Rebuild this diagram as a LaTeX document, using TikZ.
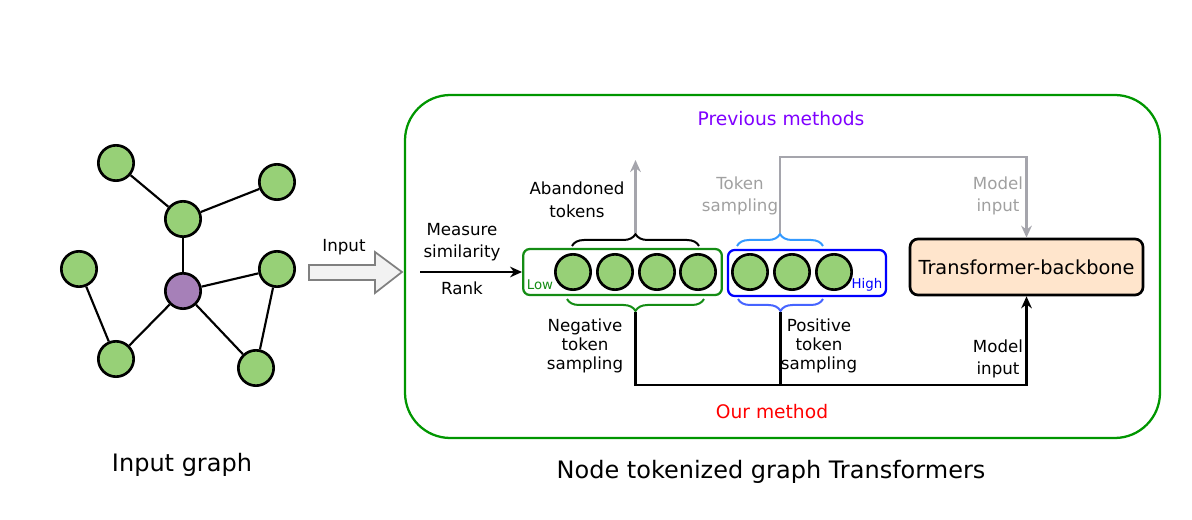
\documentclass[tikz,border=0pt]{standalone}
\usepackage{fontspec}
\setmainfont{DejaVu Sans}
\usetikzlibrary{arrows.meta,decorations.pathreplacing,calc}
\definecolor{nodegreen}{RGB}{151,208,119}
\definecolor{nodepurple}{RGB}{166,128,184}
\definecolor{boxgreen}{RGB}{0,150,0}
\definecolor{lowgreen}{RGB}{20,140,20}
\definecolor{highblue}{RGB}{0,0,255}
\definecolor{lightblue}{RGB}{51,153,255}
\definecolor{braceblue}{RGB}{70,100,255}
\definecolor{grayline}{RGB}{165,165,172}
\definecolor{graytext}{RGB}{160,160,160}
\definecolor{prevpurple}{RGB}{127,0,255}
\definecolor{peach}{RGB}{255,229,204}
\definecolor{arrowfill}{RGB}{242,242,242}
\definecolor{arrowdraw}{RGB}{128,128,128}
\begin{document}
\begin{tikzpicture}[x=0.75pt,y=-0.75pt,
  gnode/.style={circle,draw=black,fill=nodegreen,line width=2pt,minimum size=26.5pt,inner sep=0pt},
  pnode/.style={gnode,fill=nodepurple},
  tok/.style={gnode},
  edge/.style={line width=1.6pt},
  lbl/.style={font=\fontsize{12.5}{17}\selectfont,align=center,inner sep=0pt},
  lbltight/.style={font=\fontsize{12.5}{14.3}\selectfont,align=center,inner sep=0pt},
  graylbl/.style={lbl,text=graytext},
  bigtitle/.style={font=\fontsize{18}{22}\selectfont,inner sep=0pt},
  midtitle/.style={font=\fontsize{14}{17}\selectfont,inner sep=0pt},
  bracedec/.style={decorate,decoration={brace,amplitude=9pt},line width=1.5pt},
  grayarrow/.style={draw=grayline,line width=1.6pt,-{Stealth[length=9pt,width=8pt]}},
  blackarrow/.style={draw=black,line width=1.6pt,-{Stealth[length=9pt,width=8pt]}},
  plainline/.style={draw=black,line width=1.6pt}
]
\useasboundingbox (0,0) rectangle (1192,520);

% ---------- input graph ----------
\node[gnode] (tl) at (116,163) {};
\node[gnode] (tr) at (277,182) {};
\node[gnode] (mu) at (183,219) {};
\node[gnode] (le) at (79,269) {};
\node[pnode] (ce) at (183,291) {};
\node[gnode] (ri) at (277,269) {};
\node[gnode] (bl) at (116,359) {};
\node[gnode] (br) at (256,368) {};
\draw[edge] (tl) -- (mu);
\draw[edge] (tr) -- (mu);
\draw[edge] (mu) -- (ce);
\draw[edge] (ce) -- (ri);
\draw[edge] (ce) -- (bl);
\draw[edge] (ce) -- (br);
\draw[edge] (le) -- (bl);
\draw[edge] (ri) -- (br);
\node[bigtitle] (igtitle) at (182,465) {Input graph};

% ---------- block arrow ----------
\draw[draw=arrowdraw,fill=arrowfill,line width=1.3pt]
  (309,265) -- (375,265) -- (375,252) -- (402,272) -- (375,293) -- (375,280) -- (309,280) -- cycle;
\node[lbl] (inputlbl) at (344,247) {Input};

% ---------- big container ----------
\draw[draw=boxgreen,line width=1.7pt,rounded corners=34pt] (405,95) rectangle (1160,438);
\node[midtitle,text=prevpurple] (prev) at (781,119) {Previous methods};
\node[midtitle,text=red] (ours) at (772,412) {Our method};
\node[bigtitle] (ntitle) at (771,472) {Node tokenized graph Transformers};

% ---------- token boxes ----------
\node[draw=lowgreen,line width=1.7pt,rounded corners=5pt,minimum width=149pt,minimum height=34.5pt,inner sep=0pt] (lowbox) at (622.5,272) {};
\node[draw=highblue,line width=1.7pt,rounded corners=5pt,minimum width=118.5pt,minimum height=34.5pt,inner sep=0pt] (highbox) at (807,273) {};
\node[tok] (t1) at (573,272) {};
\node[tok] (t2) at (615,272) {};
\node[tok] (t3) at (657,272) {};
\node[tok] (t4) at (698,272) {};
\node[tok] (t5) at (750,272) {};
\node[tok] (t6) at (792,272) {};
\node[tok] (t7) at (834,272) {};
\node[font=\fontsize{10}{11}\selectfont,text=lowgreen,inner sep=0pt] (lowlbl) at (540,285) {Low};
\node[font=\fontsize{10}{11}\selectfont,text=highblue,inner sep=0pt] (highlbl) at (867,285) {High};

% braces
\coordinate (ab1) at (572,246);
\coordinate (ab2) at (699,246);
\coordinate (pb1) at (737,246);
\coordinate (pb2) at (823,246);
\coordinate (nb1) at (567,299);
\coordinate (nb2) at (704,299);
\coordinate (qb1) at (738,299);
\coordinate (qb2) at (823,299);
\draw[bracedec,draw=black] (ab1) -- (ab2);
\draw[bracedec,draw=lightblue] (pb1) -- (pb2);
\draw[bracedec,draw=lowgreen] (nb2) -- (nb1);
\draw[bracedec,draw=braceblue] (qb2) -- (qb1);
\coordinate (abtip) at (635.5,233);
\coordinate (pbtip) at (780,233);
\coordinate (nbtip) at (635.5,312);
\coordinate (qbtip) at (780.5,312);

% measure arrow
\coordinate (mstart) at (420,272);
\draw[blackarrow] (mstart) -- (lowbox.west);
\node[lbl] (measure) at (462,242) {Measure\\similarity};
\node[lbl] (rank) at (462,288) {Rank};

% transformer
\node[draw=black,fill=peach,line width=2pt,rounded corners=6pt,minimum width=174.75pt,minimum height=42pt,inner sep=0pt,font=\fontsize{14.5}{17}\selectfont] (tb) at (1026.5,267) {Transformer-backbone};

% previous methods paths
\coordinate (abend) at (635.5,160);
\draw[grayarrow] (abtip) -- (abend);
\node[lbl] (aband) at (577,200) {Abandoned\\tokens};
\coordinate (prevcorner) at (780,157);
\draw[grayarrow] (pbtip) -- (prevcorner) -| (tb.north);
\node[graylbl] (toksamp) at (740,196) {Token\\sampling};
\node[graylbl] (modin1) at (998,196) {Model\\input};

% our method paths
\coordinate (ourcorner) at (1026.5,385);
\draw[blackarrow] (nbtip) |- (ourcorner) -- (tb.south);
\draw[plainline] (qbtip) -- (qbtip |- ourcorner);
\node[lbl] (modin2) at (998,359) {Model\\input};
\node[lbltight] (negs) at (585,346) {Negative\\token\\sampling};
\node[lbltight] (poss) at (819,346) {Positive\\token\\sampling};
\end{tikzpicture}
\end{document}
